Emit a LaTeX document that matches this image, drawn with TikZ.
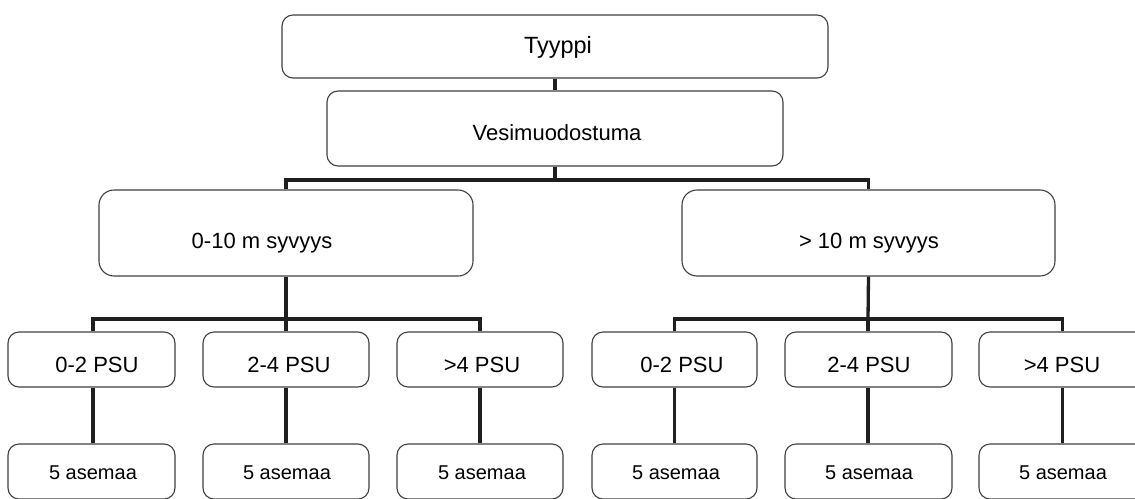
\documentclass[tikz,border=0pt]{standalone}
\usepackage{fontspec}
\setmainfont{Liberation Sans}
\tikzset{
  box/.style={draw=black!75, line width=1.1pt, rounded corners=11pt, fill=white, inner sep=0pt},
  bigbox/.style={box, rounded corners=15pt},
  lbl/.style={inner sep=0pt, font=\fontsize{22}{26}\selectfont},
  smalllbl/.style={inner sep=0pt, font=\fontsize{20}{24}\selectfont},
  conn/.style={draw=black!88, line width=3.3pt}
}
\begin{document}
\begin{tikzpicture}[x=1pt,y=-1pt]
\clip (0,0) rectangle (1135,498);
\fill[white] (0,0) rectangle (1135,498);

% top boxes
\node[box, minimum width=546pt, minimum height=63pt] (t) at (555,46.5) {};
\node[box, minimum width=456pt, minimum height=75pt] (v) at (555,128.5) {};
% depth boxes
\node[bigbox, minimum width=374pt, minimum height=86pt] (d1) at (286,233) {};
\node[bigbox, minimum width=373pt, minimum height=86pt] (d2) at (868.5,233) {};
% PSU boxes
\node[box, minimum width=167pt, minimum height=55pt] (p1) at (91.5,359.5) {};
\node[box, minimum width=166pt, minimum height=55pt] (p2) at (286,359.5) {};
\node[box, minimum width=166pt, minimum height=55pt] (p3) at (480,359.5) {};
\node[box, minimum width=165pt, minimum height=55pt] (p4) at (674.5,359.5) {};
\node[box, minimum width=167pt, minimum height=55pt] (p5) at (868.5,359.5) {};
\node[box, minimum width=167pt, minimum height=55pt] (p6) at (1062.5,359.5) {};
% station boxes
\node[box, minimum width=167pt, minimum height=55pt] (a1) at (91.5,471.5) {};
\node[box, minimum width=166pt, minimum height=55pt] (a2) at (286,471.5) {};
\node[box, minimum width=166pt, minimum height=55pt] (a3) at (480,471.5) {};
\node[box, minimum width=165pt, minimum height=55pt] (a4) at (674.5,471.5) {};
\node[box, minimum width=167pt, minimum height=55pt] (a5) at (868.5,471.5) {};
\node[box, minimum width=167pt, minimum height=55pt] (a6) at (1062.5,471.5) {};

% labels
\node[lbl, font=\fontsize{23.5}{28}\selectfont] (tl) at (558,47) {Tyyppi};
\node[lbl] (vl) at (557,133) {Vesimuodostuma};
\node[lbl] (d1l) at (262,243) {0-10 m syvyys};
\node[lbl] (d2l) at (869,243) {> 10 m syvyys};
\node[lbl] (p1l) at (97,365) {0-2 PSU};
\node[lbl] (p2l) at (289,365) {2-4 PSU};
\node[lbl] (p3l) at (482,365) {>4 PSU};
\node[lbl] (p4l) at (682,365) {0-2 PSU};
\node[lbl] (p5l) at (869,365) {2-4 PSU};
\node[lbl] (p6l) at (1062,365) {>4 PSU};
\node[smalllbl] (a1l) at (93,473) {5 asemaa};
\node[smalllbl] (a2l) at (287,473) {5 asemaa};
\node[smalllbl] (a3l) at (482,473) {5 asemaa};
\node[smalllbl] (a4l) at (676,473) {5 asemaa};
\node[smalllbl] (a5l) at (869,473) {5 asemaa};
\node[smalllbl] (a6l) at (1063,473) {5 asemaa};

% connectors
\coordinate (j0) at (555,180);
\coordinate (j1) at (286,319);
\coordinate (j2) at (868,319);
\path[conn] (t.south) -- (v.north);
\path[conn] (v.south) -- (j0);
\path[conn] (j0) -| (d1.north);
\path[conn] (j0) -| (d2.north);
\path[conn] (d1.south) -- (j1);
\path[conn] (j1) -| ([xshift=1.5pt]p1.north);
\path[conn] (j1) -- (p2.north);
\path[conn] (j1) -| (p3.north);
\path[conn] (d2.south) -- (j2);
\path[conn] (j2) -| (p4.north);
\path[conn] (j2) -- ([xshift=-0.5pt]p5.north);
\path[conn] (j2) -| (p6.north);
\path[conn] ([xshift=1.5pt]p1.south) -- ([xshift=1.5pt]a1.north);
\path[conn] (p2.south) -- (a2.north);
\path[conn] (p3.south) -- (a3.north);
\path[conn] (p4.south) -- (a4.north);
\path[conn] ([xshift=-0.5pt]p5.south) -- ([xshift=-0.5pt]a5.north);
\path[conn] (p6.south) -- (a6.north);
\end{tikzpicture}
\end{document}
